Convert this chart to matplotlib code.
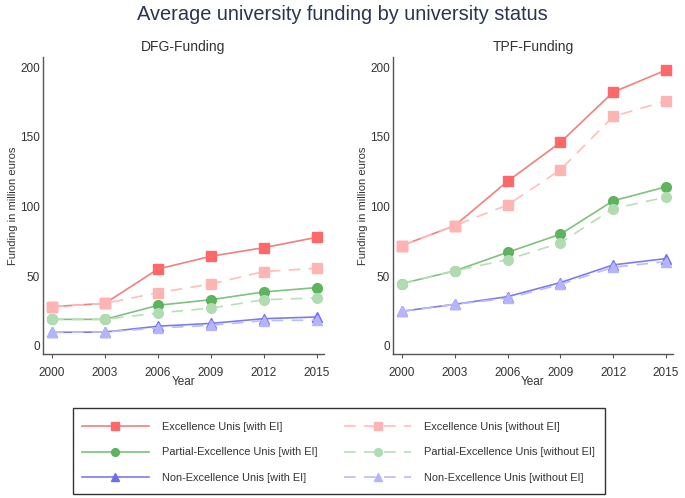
import matplotlib
matplotlib.use("Agg")
import matplotlib.pyplot as plt
from matplotlib.patches import Rectangle

plt.rcParams['font.family'] = ['Liberation Sans', 'DejaVu Sans']

years = [2000, 2003, 2006, 2009, 2012, 2015]

# DFG-Funding (million euros)
dfg_exc_with = [28, 30.4, 55, 64.2, 70.4, 77.8]
dfg_exc_without = [28, 30.4, 38, 44.3, 53.2, 55.6]
dfg_part_with = [18.9, 18.9, 29, 33, 38.6, 41.7]
dfg_part_without = [18.9, 18.9, 23.5, 27, 33, 34.3]
dfg_non_with = [9.6, 9.8, 14, 16, 19.4, 20.6]
dfg_non_without = [9.6, 9.8, 12.7, 14.6, 18, 18.4]

# TPF-Funding (million euros)
tpf_exc_with = [71.9, 86.2, 118, 145.9, 182, 197.8]
tpf_exc_without = [71.9, 86.2, 101, 126.2, 164.5, 175.6]
tpf_part_with = [44.6, 53.7, 67, 80, 104, 114]
tpf_part_without = [44.6, 53.7, 61.8, 73.8, 98.4, 106.6]
tpf_non_with = [24.7, 29.7, 35.2, 45.3, 58, 62.5]
tpf_non_without = [24.7, 29.7, 34, 44, 56.3, 60.4]

labels_with = ["Excellence Unis [with EI]", "Partial-Excellence Unis [with EI]",
               "Non-Excellence Unis [with EI]"]
labels_without = ["Excellence Unis [without EI]", "Partial-Excellence Unis [without EI]",
                  "Non-Excellence Unis [without EI]"]
yticks = [0, 50, 100, 150, 200]

styles_with = [
    dict(color='#F47F7F', mfc='#FF6868', mec='#FF6868', marker='s', ms=7),
    dict(color='#7DC27D', mfc='#5EB35E', mec='#5EB35E', marker='o', ms=7),
    dict(color='#7C7CEE', mfc='#6E6EF0', mec='#6E6EF0', marker='^', ms=7.5),
]
styles_without = [
    dict(color='#FFBDBD', mfc='#FFB4B4', mec='#FFB4B4', marker='s', ms=7),
    dict(color='#B9DEB9', mfc='#B1DBB1', mec='#B1DBB1', marker='o', ms=7),
    dict(color='#BBBBFF', mfc='#B4B4FF', mec='#B4B4FF', marker='^', ms=7.5),
]

fig = plt.figure(figsize=(6.85, 4.98), dpi=100)
W, H = 685, 498

def add_ax(x0, x1, y0, y1):
    return fig.add_axes([x0 / W, 1 - y1 / H, (x1 - x0) / W, (y1 - y0) / H])

ax1 = add_ax(43, 324, 57, 354)
ax2 = add_ax(393, 673, 57, 354)

panels = [
    (ax1, 'DFG-Funding', [dfg_exc_with, dfg_part_with, dfg_non_with],
     [dfg_exc_without, dfg_part_without, dfg_non_without]),
    (ax2, 'TPF-Funding', [tpf_exc_with, tpf_part_with, tpf_non_with],
     [tpf_exc_without, tpf_part_without, tpf_non_without]),
]

text_col = '#333333'
for ax, sub, with_series, without_series in panels:
    for vals, st, lab in zip(with_series, styles_with, labels_with):
        ax.plot(years, vals, color=st['color'], lw=1.2, marker=st['marker'],
                ms=st['ms'], mfc=st['mfc'], mec=st['mec'], label=lab, zorder=3)
    for vals, st, lab in zip(without_series, styles_without, labels_without):
        ax.plot(years, vals, color=st['color'], lw=1.2, ls=(0, (7, 5)),
                marker=st['marker'], ms=st['ms'], mfc=st['mfc'], mec=st['mec'],
                label=lab, zorder=4)
    ax.set_xlim(1999.49, 2015.4)
    ax.set_ylim(-5.96, 207.2)
    ax.set_xticks(years)
    ax.set_yticks(yticks)
    for s in ['top', 'right']:
        ax.spines[s].set_visible(False)
    for s in ['left', 'bottom']:
        ax.spines[s].set_color('#555555')
        ax.spines[s].set_linewidth(1.0)
    ax.tick_params(axis='x', length=3, width=0.8, color='#555555', pad=6.5,
                   labelsize=8.5, labelcolor=text_col)
    ax.tick_params(axis='y', length=0, pad=2, labelsize=8.5, labelcolor=text_col)
    ax.set_xlabel('Year', fontsize=8.5, color=text_col, labelpad=-2)
    ax.set_ylabel('Funding in million euros', fontsize=8, color=text_col, labelpad=2)
    ax.set_facecolor('none')
    # subtitle centred over the axes
    bb = ax.get_position()
    fig.text((bb.x0 + bb.x1) / 2, 1 - 47 / H, sub, ha='center', va='center',
             fontsize=10, color=text_col)

fig.text(0.5, 1 - 14 / H, 'Average university funding by university status',
         ha='center', va='center', fontsize=14.4, color='#2A3550')

handles, labs = ax1.get_legend_handles_labels()
leg = fig.legend(handles, labs, ncol=2, loc='upper left',
                 bbox_to_anchor=(82 / W, 1 - 421.8 / H),
                 fontsize=7.9, frameon=False, handlelength=6.1,
                 handletextpad=1.18, labelspacing=1.42, borderpad=0,
                 numpoints=1, columnspacing=2.46, borderaxespad=0,
                 markerscale=0.8)
for t in leg.get_texts():
    t.set_color(text_col)

fig.patches.append(Rectangle((73 / W, 1 - 494 / H), (605 - 73) / W, (494 - 408) / H,
                             transform=fig.transFigure, fill=False,
                             edgecolor='#333333', linewidth=1.0))

fig.savefig('out.png', dpi=100)
